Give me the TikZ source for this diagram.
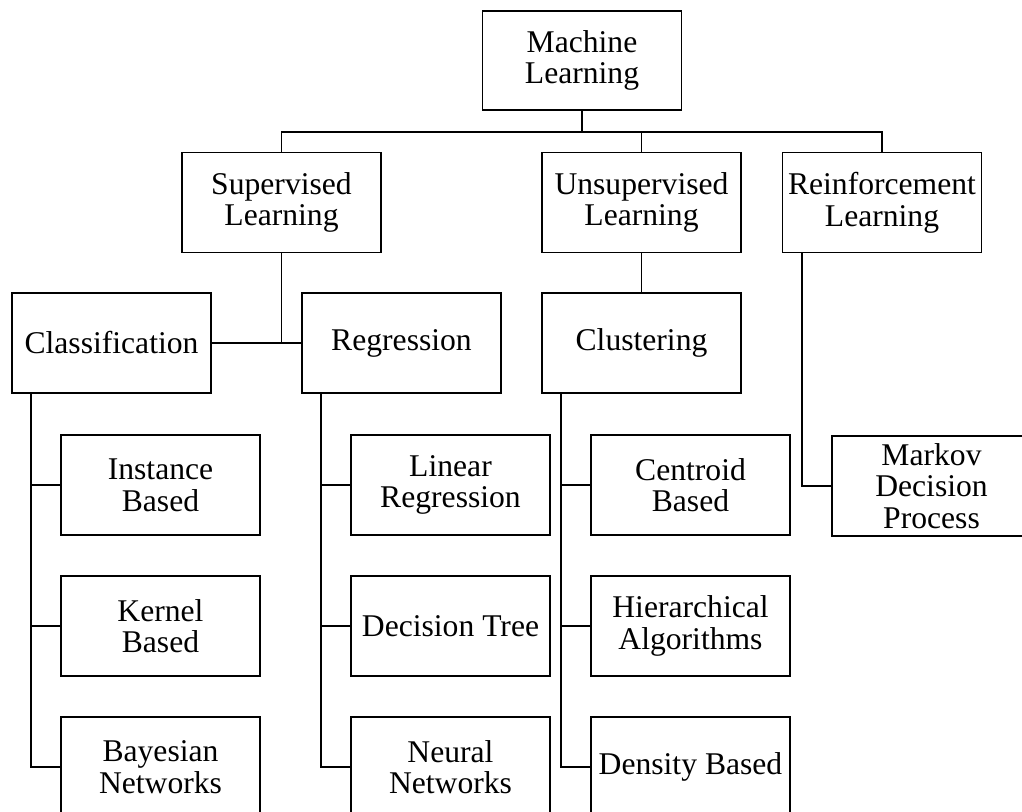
\documentclass[tikz,border=0pt]{standalone}
\usepackage{fontspec}
\setmainfont{Liberation Serif}
\begin{document}
\begin{tikzpicture}[x=0.02cm,y=-0.02cm,line width=1.1pt,font=\fontsize{18}{18}\selectfont,
box/.style={draw,minimum width=3.98cm,minimum height=2cm,align=center,inner sep=1pt}]
\clip(0,0)rectangle(1022,812);
\pgfmathsetmacro{\s}{0.4}
\node[box,minimum height=1.98cm](ml)at(582,60.5){Machine\\Learning};
\node[box](sup)at(281.5,202.5){Supervised\\Learning};
\node[box](uns)at(641.5,202.5){Unsupervised\\Learning};
\node[box](rei)at(882,202.5){Reinforcement\\Learning};
\node[box](cla)at(111.5,343){Classification};
\node[box](reg)at(401.5,343){Regression};
\node[box](clu)at(641.5,343){Clustering};
\node[box](ins)at(160.5,485){Instance\\Based};
\node[box](ker)at(160.5,626){Kernel\\Based};
\node[box](bay)at(160.5,767){Bayesian\\Networks};
\node[box](lin)at(450.5,485){Linear\\Regression};
\node[box](dec)at(450.5,626){Decision Tree};
\node[box](neu)at(450.5,767){Neural\\Networks};
\node[box](cen)at(690.5,485){Centroid\\Based};
\node[box](hie)at(690.5,626){Hierarchical\\Algorithms};
\node[box](den)at(690.5,767){Density Based};
\node[box](mar)at(931.5,486){Markov\\Decision\\Process};
\coordinate(bus)at(0,132);
\draw(ml.south)--(ml.south|-bus);
\draw(sup.north)|-(bus-|rei.north)--(rei.north);
\draw(uns.north)--(uns.north|-bus);
\draw(sup.south)--(sup.south|-cla.east);
\draw(cla.east)--(reg.west);
\draw(uns.south)--(clu.north);
\draw([xshift=\s cm]rei.south west)|-(mar.west);
\foreach \p/\a/\b/\c in {cla/ins/ker/bay,reg/lin/dec/neu,clu/cen/hie/den}{
\coordinate(s\p)at([xshift=\s cm]\p.south west);
\draw(s\p)|-(\c.west);
\draw(\a.west)--(\a.west-|s\p);
\draw(\b.west)--(\b.west-|s\p);
}
\end{tikzpicture}
\end{document}
